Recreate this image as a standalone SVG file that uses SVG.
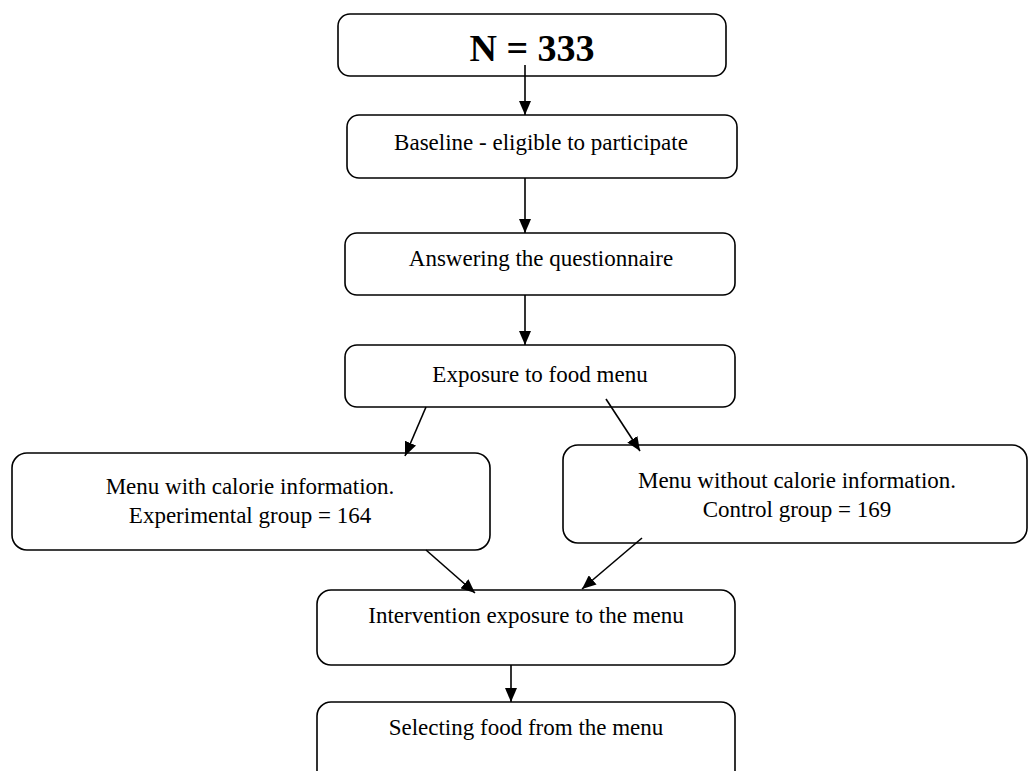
<svg xmlns="http://www.w3.org/2000/svg" width="1029" height="771" viewBox="0 0 1029 771">
<style>
.box{fill:#fff;stroke:#000;stroke-width:1.6}
.t{font-family:"Liberation Serif","Times New Roman",serif;font-size:23px;fill:#000;text-anchor:middle}
.big{font-family:"Liberation Serif","Times New Roman",serif;font-size:38px;font-weight:bold;fill:#000;text-anchor:middle}
.c{stroke:#000;stroke-width:1.6;fill:none;marker-end:url(#ah)}
</style>
<defs>
<marker id="ah" viewBox="0 0 14 12" refX="14" refY="6" markerWidth="14" markerHeight="12" markerUnits="userSpaceOnUse" orient="auto">
<path d="M0,0 L14,6 L0,12 z" fill="#000"/>
</marker>
</defs>
<rect width="1029" height="771" fill="#fff"/>
<g id="n333">
<rect class="box" x="338" y="14" width="388" height="62" rx="12"/>
<text class="big" x="532" y="61">N = 333</text>
</g>
<g id="baseline">
<rect class="box" x="347" y="115" width="390" height="63" rx="12"/>
<text class="t" x="541" y="150">Baseline - eligible to participate</text>
</g>
<g id="answering">
<rect class="box" x="345" y="233" width="390" height="62" rx="12"/>
<text class="t" x="541" y="266">Answering the questionnaire</text>
</g>
<g id="exposure">
<rect class="box" x="345" y="345" width="390" height="62" rx="12"/>
<text class="t" x="540" y="382">Exposure to food menu</text>
</g>
<g id="withcal">
<rect class="box" x="12" y="453" width="478" height="97" rx="15"/>
<text class="t" x="250" y="494">Menu with calorie information.</text>
<text class="t" x="250" y="523">Experimental group = 164</text>
</g>
<g id="withoutcal">
<rect class="box" x="563" y="445" width="464" height="98" rx="15"/>
<text class="t" x="797" y="488">Menu without calorie information.</text>
<text class="t" x="797" y="517">Control group = 169</text>
</g>
<g id="intervention">
<rect class="box" x="317" y="590" width="418" height="75" rx="14"/>
<text class="t" x="526" y="623">Intervention exposure to the menu</text>
</g>
<g id="selecting">
<rect class="box" x="317" y="702" width="418" height="90" rx="14"/>
<text class="t" x="526" y="735">Selecting food from the menu</text>
</g>
<g id="connectors">
<line class="c" x1="525" y1="65" x2="525" y2="115"/>
<line class="c" x1="525" y1="178" x2="525" y2="233"/>
<line class="c" x1="525" y1="295" x2="525" y2="345"/>
<line class="c" x1="426" y1="407" x2="405" y2="456"/>
<line class="c" x1="606" y1="399" x2="640" y2="451"/>
<line class="c" x1="426" y1="550" x2="475" y2="593"/>
<line class="c" x1="642" y1="538" x2="582" y2="589"/>
<line class="c" x1="511" y1="665" x2="511" y2="702"/>
</g>
</svg>
